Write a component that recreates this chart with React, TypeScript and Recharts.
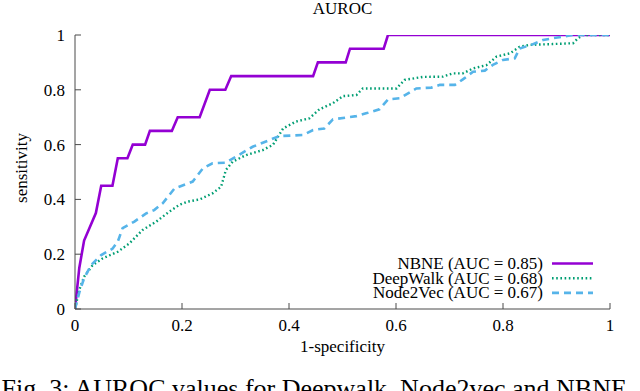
import { LineChart, Line, XAxis, YAxis, Legend } from "recharts";

const AXIS = "#4a4a4a";
const FONT = "'Liberation Serif', 'Times New Roman', serif";

const ticks = [0, 0.2, 0.4, 0.6, 0.8, 1];

// NBNE curve (1-specificity, sensitivity)
const nbneFpr = [0, 0.008, 0.017, 0.039, 0.049, 0.07, 0.08, 0.098, 0.108, 0.131, 0.14, 0.181, 0.192, 0.233, 0.252, 0.281, 0.292, 0.445, 0.454, 0.506, 0.514, 0.577, 0.585, 1];
const nbneTpr = [0, 0.15, 0.25, 0.35, 0.45, 0.45, 0.55, 0.55, 0.6, 0.6, 0.65, 0.65, 0.7, 0.7, 0.8, 0.8, 0.85, 0.85, 0.9, 0.9, 0.95, 0.95, 1, 1];

// DeepWalk curve
const dwFpr = [0, 0.008, 0.017, 0.033, 0.052, 0.08, 0.102, 0.126, 0.152, 0.176, 0.195, 0.211, 0.233, 0.257, 0.273, 0.282, 0.295, 0.32, 0.351, 0.37, 0.389, 0.413, 0.438, 0.457, 0.482, 0.501, 0.526, 0.538, 0.601, 0.616, 0.65, 0.688, 0.706, 0.725, 0.744, 0.769, 0.788, 0.813, 0.831, 0.85, 0.893, 0.931, 0.94, 0.95, 1];
const dwTpr = [0, 0.07, 0.118, 0.16, 0.185, 0.209, 0.24, 0.288, 0.319, 0.355, 0.38, 0.392, 0.4, 0.422, 0.446, 0.507, 0.538, 0.562, 0.58, 0.599, 0.659, 0.684, 0.696, 0.729, 0.751, 0.777, 0.781, 0.805, 0.805, 0.836, 0.847, 0.848, 0.86, 0.86, 0.878, 0.89, 0.921, 0.933, 0.957, 0.964, 0.967, 0.97, 0.988, 1, 1];

// Node2Vec curve
const n2vFpr = [0, 0.008, 0.017, 0.03, 0.049, 0.07, 0.08, 0.089, 0.111, 0.133, 0.148, 0.164, 0.186, 0.22, 0.239, 0.257, 0.282, 0.301, 0.332, 0.364, 0.382, 0.426, 0.445, 0.466, 0.482, 0.526, 0.544, 0.569, 0.585, 0.607, 0.638, 0.666, 0.682, 0.71, 0.725, 0.744, 0.766, 0.781, 0.8, 0.822, 0.831, 0.853, 0.875, 0.893, 0.912, 0.93, 1];
const n2vTpr = [0, 0.06, 0.112, 0.16, 0.197, 0.22, 0.246, 0.295, 0.319, 0.349, 0.361, 0.386, 0.44, 0.465, 0.513, 0.532, 0.534, 0.556, 0.592, 0.617, 0.631, 0.635, 0.653, 0.659, 0.692, 0.704, 0.714, 0.729, 0.765, 0.769, 0.805, 0.808, 0.818, 0.818, 0.838, 0.866, 0.87, 0.891, 0.909, 0.915, 0.951, 0.964, 0.982, 0.988, 0.994, 1, 1];

const zip = (xs: number[], ys: number[]) => xs.map((x, i) => ({ x, y: ys[i] }));

const series = [
  { name: "NBNE (AUC = 0.85)", color: "#9400d3", dash: undefined as string | undefined, width: 2.6, data: zip(nbneFpr, nbneTpr) },
  { name: "DeepWalk (AUC = 0.68)", color: "#009e73", dash: "1.6 2.6", width: 2.4, data: zip(dwFpr, dwTpr) },
  { name: "Node2Vec (AUC = 0.67)", color: "#56b4e9", dash: "7 5", width: 2.6, data: zip(n2vFpr, n2vTpr) },
];

const fmt = (v: number) => String(v);

const BottomTick = ({ x, y, payload }: any) => (
  <g>
    <line x1={x} y1={y} x2={x} y2={y - 6} stroke={AXIS} />
    <text x={x} y={y + 22} textAnchor="middle" fontFamily={FONT} fontSize={17} fill="#000">
      {fmt(payload.value)}
    </text>
  </g>
);

const TopTick = ({ x, y }: any) => <line x1={x} y1={y} x2={x} y2={y + 6} stroke={AXIS} />;

const LeftTick = ({ x, y, payload }: any) => (
  <g>
    <line x1={x} y1={y} x2={x + 6} y2={y} stroke={AXIS} />
    <text x={x - 10} y={y + 6} textAnchor="end" fontFamily={FONT} fontSize={17} fill="#000">
      {fmt(payload.value)}
    </text>
  </g>
);

const RightTick = ({ x, y }: any) => <line x1={x} y1={y} x2={x - 6} y2={y} stroke={AXIS} />;

const LegendBox = () => (
  <svg width={260} height={52}>
    {series.map((s, i) => (
      <g key={s.name}>
        <text x={193} y={17 + i * 14.7} textAnchor="end" fontFamily={FONT} fontSize={17} fill="#000">
          {s.name}
        </text>
        <line x1={202} x2={243} y1={11.5 + i * 14.7} y2={11.5 + i * 14.7} stroke={s.color} strokeWidth={s.width} strokeDasharray={s.dash} />
      </g>
    ))}
  </svg>
);

export default function App() {
  return (
    <div style={{ position: "absolute", left: 0, top: 0, width: 640, height: 391, overflow: "hidden", background: "#fff" }}>
      <LineChart width={640} height={391} margin={{ top: 35, right: 30, left: 15, bottom: 32 }}>
        <XAxis dataKey="x" type="number" domain={[0, 1]} ticks={ticks} height={50} tickSize={0} tickMargin={0} tick={<BottomTick />} axisLine={{ stroke: AXIS }} allowDataOverflow />
        <XAxis xAxisId="top" orientation="top" type="number" domain={[0, 1]} ticks={ticks} height={0} tickSize={0} tickMargin={0} tick={<TopTick />} axisLine={{ stroke: AXIS }} allowDataOverflow />
        <YAxis type="number" domain={[0, 1]} ticks={ticks} width={60} tickSize={0} tickMargin={0} tick={<LeftTick />} axisLine={{ stroke: AXIS }} allowDataOverflow />
        <YAxis yAxisId="right" orientation="right" type="number" domain={[0, 1]} ticks={ticks} width={0} tickSize={0} tickMargin={0} tick={<RightTick />} axisLine={{ stroke: AXIS }} allowDataOverflow />
        {series.map((s) => (
          <Line
            key={s.name}
            data={s.data}
            dataKey="y"
            name={s.name}
            type="linear"
            stroke={s.color}
            strokeWidth={s.width}
            strokeDasharray={s.dash}
            dot={false}
            activeDot={false}
            isAnimationActive={false}
          />
        ))}
        <Legend layout="vertical" align="center" verticalAlign="middle" content={<LegendBox />} wrapperStyle={{ left: 350, top: 252, width: 260, height: 52 }} />
      </LineChart>
      <svg width={640} height={391} style={{ position: "absolute", left: 0, top: 0, pointerEvents: "none" }}>
        <text x={342.5} y={13.5} textAnchor="middle" fontFamily={FONT} fontSize={17}>AUROC</text>
        <text x={27} y={168} transform="rotate(-90 27 168)" textAnchor="middle" fontFamily={FONT} fontSize={17}>sensitivity</text>
        <text x={342.5} y={352} textAnchor="middle" fontFamily={FONT} fontSize={17}>1-specificity</text>
        <text x={1.5} y={397} fontFamily={FONT} fontSize={26}>Fig. 3: AUROC values for Deepwalk, Node2vec and NBNE</text>
      </svg>
    </div>
  );
}
